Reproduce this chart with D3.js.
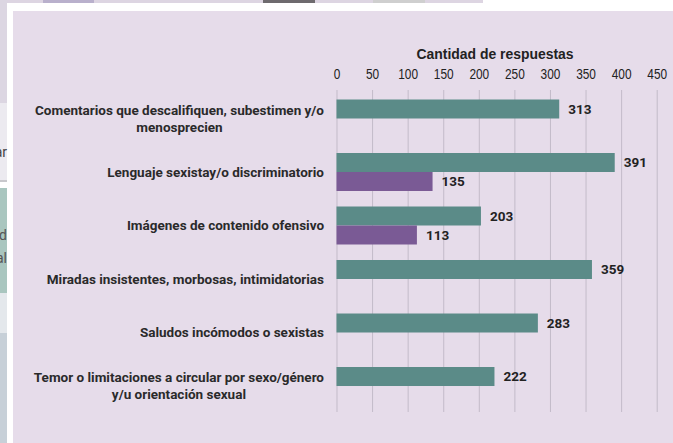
<!DOCTYPE html>
<html>
<head>
<meta charset="utf-8">
<script src="https://cdn.jsdelivr.net/npm/d3@7"></script>
<style>
  body { margin: 0; background: #ffffff; }
  svg { display: block; }
</style>
</head>
<body>
<svg id="grafica"></svg>
<script>
// Cantidad de respuestas por tipo de situación

const svg_w = 673;
const svg_h = 443;

// datos
const categorias = [
  ["Comentarios que descalifiquen, subestimen y/o", "menosprecien"],
  ["Lenguaje sexistay/o discriminatorio"],
  ["Imágenes de contenido ofensivo"],
  ["Miradas insistentes, morbosas, intimidatorias"],
  ["Saludos incómodos o sexistas"],
  ["Temor o limitaciones a circular por sexo/género", "y/u orientación sexual"]
];
const serie_verde = [313, 391, 203, 359, 283, 222];
const serie_morada = [null, 135, 113, null, null, null];
const ticks = [0, 50, 100, 150, 200, 250, 300, 350, 400, 450];
const titulo_eje = "Cantidad de respuestas";

const colores = {verde: "#5b8b88", morada: "#7a5a95"};
const fuente_angosta = "'Liberation Sans Narrow', 'Arial Narrow', 'Liberation Sans', sans-serif";

let svg = d3.select("#grafica")
  .attr("width", svg_w)
  .attr("height", svg_h);

// fondo: restos de la captura alrededor del panel
let fondo = svg.append("g");
fondo.append("rect").attr("x", 0).attr("y", 0).attr("width", 483).attr("height", 3).attr("fill", "#ddd5e2");
fondo.append("rect").attr("x", 43).attr("y", 0).attr("width", 51).attr("height", 3).attr("fill", "#b9b0cc");
fondo.append("rect").attr("x", 263).attr("y", 0).attr("width", 52).attr("height", 3).attr("fill", "#6e6a6e");
fondo.append("rect").attr("x", 373).attr("y", 0).attr("width", 52).attr("height", 3).attr("fill", "#cfcfcf");
fondo.append("rect").attr("x", 0).attr("y", 0).attr("width", 7).attr("height", 103).attr("fill", "#dcd6e2");
fondo.append("rect").attr("x", 0).attr("y", 103).attr("width", 7).attr("height", 77).attr("fill", "#eceaf0");
fondo.append("rect").attr("x", 0).attr("y", 180).attr("width", 7).attr("height", 2).attr("fill", "#c8c8cc");
fondo.append("rect").attr("x", 0).attr("y", 188).attr("width", 7).attr("height", 105).attr("fill", "#a9c6bf");
fondo.append("rect").attr("x", 0).attr("y", 293).attr("width", 7).attr("height", 40).attr("fill", "#e4e8ec");
fondo.append("rect").attr("x", 0).attr("y", 333).attr("width", 7).attr("height", 110).attr("fill", "#c7d0d8");
// fragmentos de texto cortados por el borde, como en la captura
fondo.append("text").attr("x", 7).attr("y", 157).attr("text-anchor", "end")
  .attr("font-family", "Roboto").attr("font-size", 14).attr("fill", "#444").text("ar");
fondo.append("text").attr("x", 7).attr("y", 240).attr("text-anchor", "end")
  .attr("font-family", "Roboto").attr("font-size", 14).attr("fill", "#555").text("d");
fondo.append("text").attr("x", 7).attr("y", 263).attr("text-anchor", "end")
  .attr("font-family", "Roboto").attr("font-size", 14).attr("fill", "#555").text("al");

// panel
svg.append("rect")
  .attr("x", 13).attr("y", 11)
  .attr("width", svg_w - 13).attr("height", svg_h - 11)
  .attr("fill", "#e6dcea");

// escalas
let x_scale = d3.scaleLinear()
  .domain([0, 450])
  .range([336.5, 656.7]);

let y_scale = d3.scaleBand()
  .domain(d3.range(categorias.length))
  .range([99.5, 405])
  .paddingInner(0.29)
  .paddingOuter(0);

let y_serie = d3.scaleBand()
  .domain(["verde", "morada"])
  .range([0, y_scale.bandwidth()]);

// líneas de cuadrícula
svg.append("g")
  .selectAll("line")
  .data(ticks)
  .enter().append("line")
  .attr("x1", d => x_scale(d) + 0.5)
  .attr("x2", d => x_scale(d) + 0.5)
  .attr("y1", 90)
  .attr("y2", 412)
  .attr("stroke", "#c3bbc9")
  .attr("stroke-width", 1);

// eje superior (números angostos)
let eje = svg.append("g")
  .attr("transform", `translate(0,79)`)
  .call(d3.axisTop(x_scale).tickValues(ticks).tickSize(0).tickPadding(0));
eje.select(".domain").remove();
eje.selectAll("text")
  .attr("font-family", fuente_angosta)
  .attr("font-size", 14)
  .attr("fill", "#222")
  .attr("textLength", d => String(d).length * 6.6)
  .attr("lengthAdjust", "spacingAndGlyphs");

svg.append("text")
  .attr("x", 495)
  .attr("y", 59)
  .attr("text-anchor", "middle")
  .attr("font-family", fuente_angosta)
  .attr("font-weight", "bold")
  .attr("font-size", 14)
  .attr("fill", "#222")
  .attr("textLength", 157)
  .attr("lengthAdjust", "spacingAndGlyphs")
  .text(titulo_eje);

// barras
let filas = [];
categorias.forEach((c, i) => {
  filas.push({i: i, serie: "verde", valor: serie_verde[i]});
  if (serie_morada[i] != null) filas.push({i: i, serie: "morada", valor: serie_morada[i]});
});

let barras = svg.append("g")
  .selectAll("g")
  .data(filas)
  .enter().append("g")
  .attr("transform", d => `translate(0,${y_scale(d.i) + y_serie(d.serie)})`);

barras.append("rect")
  .attr("x", x_scale(0))
  .attr("y", 0)
  .attr("width", d => x_scale(d.valor) - x_scale(0))
  .attr("height", y_serie.bandwidth())
  .attr("fill", d => colores[d.serie]);

barras.append("text")
  .attr("x", d => x_scale(d.valor) + 9)
  .attr("y", y_serie.bandwidth() / 2)
  .attr("dy", "0.36em")
  .attr("font-family", "Roboto, sans-serif")
  .attr("font-weight", "bold")
  .attr("font-size", 13.5)
  .attr("fill", "#222")
  .text(d => d.valor);

// etiquetas de categorías
let etiquetas = svg.append("g")
  .selectAll("text")
  .data(categorias)
  .enter().append("text")
  .attr("font-family", "Roboto, sans-serif")
  .attr("font-weight", "bold")
  .attr("font-size", 13.5)
  .attr("fill", "#2a2a2a")
  .attr("text-anchor", "middle")
  .attr("y", (d, i) => y_scale(i) + y_scale.bandwidth() / 2 - (d.length - 1) * 8.5);

etiquetas.each(function(d) {
  let t = d3.select(this);
  d.forEach((linea, k) => {
    t.append("tspan").attr("x", 0).attr("dy", k == 0 ? "0.36em" : 17).text(linea);
  });
  // el bloque queda alineado a la derecha y las líneas centradas entre sí
  let ancho = d3.max(t.selectAll("tspan").nodes(), n => n.getComputedTextLength());
  t.selectAll("tspan").attr("x", 324 - ancho / 2);
});
</script>
</body>
</html>
